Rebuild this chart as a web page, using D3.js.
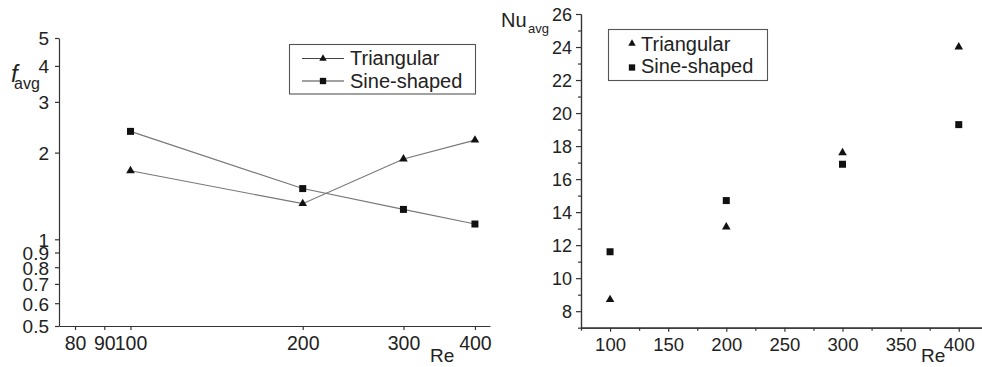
<!DOCTYPE html>
<html><head><meta charset="utf-8">
<script src="https://cdn.jsdelivr.net/npm/d3@7"></script>
<style>
body{margin:0;background:#fff;}
svg{display:block;font-family:"Liberation Sans",Arial,Helvetica,sans-serif;}
</style></head>
<body><svg id="c" width="982" height="367"></svg>
<script>
// ---- data ----
const reValues = [100, 200, 300, 400];
const fTriangular = [1.73, 1.33, 1.90, 2.21];
const fSine = [2.37, 1.50, 1.27, 1.13];
const nuTriangular = [8.7, 13.1, 17.6, 24.0];
const nuSine = [11.6, 14.7, 16.9, 19.3];
const seriesNames = ["Triangular", "Sine-shaped"];
const leftYTicks = [0.5, 0.6, 0.7, 0.8, 0.9, 1, 2, 3, 4, 5];
const leftXTicks = [80, 90, 100, 200, 300, 400];
const rightYTicks = [8, 10, 12, 14, 16, 18, 20, 22, 24, 26];
const rightYMinor = [7, 9, 11, 13, 15, 17, 19, 21, 23, 25];
const rightXTicks = [100, 150, 200, 250, 300, 350, 400];
const rightXMinor = [75, 125, 175, 225, 275, 325, 375];

const svg = d3.select("#c");
const axisColor = "#333";
const triSym = d3.symbol().type(d3.symbolTriangle).size(32);
const sqSym = d3.symbol().type(d3.symbolSquare).size(49);
const triSymS = d3.symbol().type(d3.symbolTriangle).size(24);
const sqSymS = d3.symbol().type(d3.symbolSquare).size(40);

function styleAxis(g, fs) {
  g.selectAll("path.domain").attr("stroke", axisColor).attr("stroke-width", 1.2);
  g.selectAll(".tick line").attr("stroke", axisColor).attr("stroke-width", 1.2);
  g.selectAll(".tick text").attr("fill", "#222").style("font-size", fs + "px")
    .style("font-family", '"Liberation Sans",Arial,sans-serif');
}

// ---- Left chart: f_avg (log-log) ----
const xL = d3.scaleLog().domain([75, 425]).range([59, 490]);
const yL = d3.scaleLog().domain([0.5, 5]).range([326, 38]);

const gxL = svg.append("g").attr("transform", "translate(0,326)")
  .call(d3.axisBottom(xL).tickValues(leftXTicks).tickFormat(d3.format("d")).tickSize(4).tickSizeOuter(0).tickPadding(6));
styleAxis(gxL, 19.5);
const gyL = svg.append("g").attr("transform", "translate(59,0)")
  .call(d3.axisLeft(yL).tickValues(leftYTicks).tickFormat(d => String(d)).tickSize(4).tickSizeOuter(0).tickPadding(6));
styleAxis(gyL, 19);
gyL.selectAll(".tick text").attr("dy", "0.36em");

const lineL = d3.line().x(d => xL(d[0])).y(d => yL(d[1]));
[[fTriangular, triSym], [fSine, sqSym]].forEach(([vals, sym]) => {
  const pts = reValues.map((r, i) => [r, vals[i]]);
  svg.append("path").attr("d", lineL(pts)).attr("fill", "none")
    .attr("stroke", "#777").attr("stroke-width", 1.1);
  svg.selectAll(null).data(pts).enter().append("path")
    .attr("d", sym).attr("fill", "#111")
    .attr("transform", d => `translate(${xL(d[0])},${yL(d[1])})`);
});

// left axis labels
svg.append("text").attr("x", 11).attr("y", 82).style("font-size", "24px")
  .style("font-style", "italic").attr("fill", "#222").text("f");
svg.append("text").attr("x", 14).attr("y", 89).style("font-size", "16px")
  .attr("fill", "#222").text("avg");
svg.append("text").attr("x", 430).attr("y", 362).style("font-size", "19px")
  .attr("fill", "#222").text("Re");

// left legend
const lgL = svg.append("g");
lgL.append("rect").attr("x", 289.5).attr("y", 44.5).attr("width", 186).attr("height", 49.5)
  .attr("fill", "#fff").attr("stroke", "#555").attr("stroke-width", 1.1);
[[triSymS, 58.5, 64.5], [sqSymS, 81, 87.5]].forEach(([sym, cy, by], i) => {
  lgL.append("line").attr("x1", 302).attr("x2", 344).attr("y1", cy).attr("y2", cy)
    .attr("stroke", "#444").attr("stroke-width", 1);
  lgL.append("path").attr("d", sym).attr("fill", "#111")
    .attr("transform", `translate(323,${cy})`);
  lgL.append("text").attr("x", 350).attr("y", by).style("font-size", "20px")
    .attr("fill", "#222").text(seriesNames[i]);
});

// ---- Right chart: Nu_avg ----
const xR = d3.scaleLinear().domain([75, 420]).range([581, 982]);
const yR = d3.scaleLinear().domain([7, 26]).range([327.7, 14]);

const gxRm = svg.append("g").attr("transform", "translate(0,327.7)")
  .call(d3.axisBottom(xR).tickValues(rightXMinor).tickFormat("").tickSize(3).tickSizeOuter(0));
styleAxis(gxRm, 18);
const gxR = svg.append("g").attr("transform", "translate(0,327.7)")
  .call(d3.axisBottom(xR).tickValues(rightXTicks).tickFormat(d3.format("d")).tickSize(4).tickSizeOuter(0).tickPadding(6));
styleAxis(gxR, 18.5);
const gyRm = svg.append("g").attr("transform", "translate(581,0)")
  .call(d3.axisLeft(yR).tickValues(rightYMinor).tickFormat("").tickSize(3).tickSizeOuter(0));
styleAxis(gyRm, 18);
const gyR = svg.append("g").attr("transform", "translate(581,0)")
  .call(d3.axisLeft(yR).tickValues(rightYTicks).tickFormat(d3.format("d")).tickSize(5).tickSizeOuter(0).tickPadding(4));
styleAxis(gyR, 18);
gyR.selectAll(".tick text").attr("dy", "0.36em");

[[nuTriangular, triSym], [nuSine, sqSym]].forEach(([vals, sym]) => {
  const pts = reValues.map((r, i) => [r, vals[i]]);
  svg.selectAll(null).data(pts).enter().append("path")
    .attr("d", sym).attr("fill", "#111")
    .attr("transform", d => `translate(${xR(d[0])},${yR(d[1])})`);
});

svg.append("text").attr("x", 501).attr("y", 27).style("font-size", "20px")
  .attr("fill", "#222").text("Nu");
svg.append("text").attr("x", 528).attr("y", 33).style("font-size", "13px")
  .attr("fill", "#222").text("avg");
svg.append("text").attr("x", 921).attr("y", 362).style("font-size", "19px")
  .attr("fill", "#222").text("Re");

// right legend
const lgR = svg.append("g");
lgR.append("rect").attr("x", 608.5).attr("y", 29.5).attr("width", 159).attr("height", 51)
  .attr("fill", "#fff").attr("stroke", "#555").attr("stroke-width", 1.1);
[[triSymS, 43.5, 50.5], [sqSymS, 67.5, 73]].forEach(([sym, cy, by], i) => {
  lgR.append("path").attr("d", sym).attr("fill", "#111")
    .attr("transform", `translate(632,${cy})`);
  lgR.append("text").attr("x", 641).attr("y", by).style("font-size", "20px")
    .attr("fill", "#222").text(seriesNames[i]);
});
</script></body></html>
